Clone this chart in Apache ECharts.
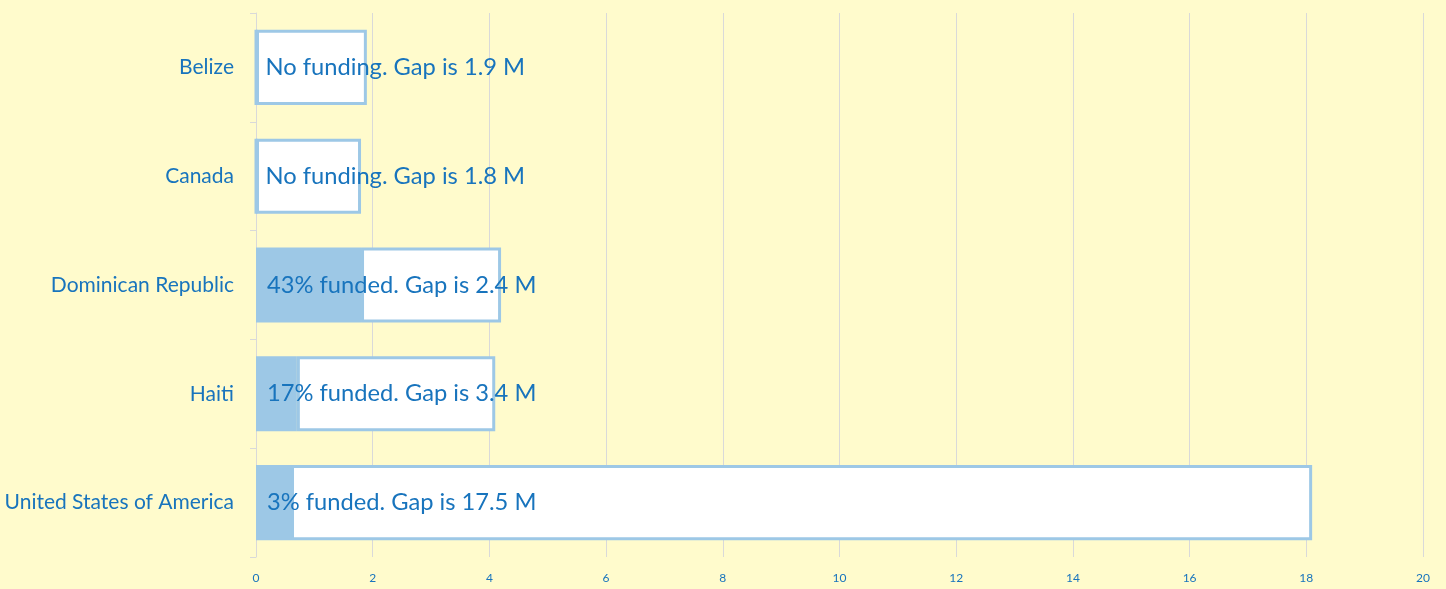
<!DOCTYPE html>
<html>
<head>
<meta charset="utf-8">
<script src="https://cdn.jsdelivr.net/npm/echarts@6/dist/echarts.min.js"></script>
<style>
  html, body { margin: 0; padding: 0; background: #fffbcc; }
  #main { width: 1446px; height: 589px; }
</style>
</head>
<body>
<div id="main"></div>
<script>
  // countries, top to bottom
  var countries = ['Belize', 'Canada', 'Dominican Republic', 'Haiti', 'United States of America']
  // funded part and remaining gap, in millions
  var funded = [0, 0, 1.8, 0.7, 0.6]
  var gap = [1.9, 1.8, 2.4, 3.4, 17.5]
  var fundedPct = [0, 0, 43, 17, 3]
  var xTicks = [0, 2, 4, 6, 8, 10, 12, 14, 16, 18, 20]

  var textBlue = '#1874bd'
  var barBlue = '#9dc8e6'
  var font = 'Lato'

  var labels = countries.map(function (c, i) {
    if (!fundedPct[i]) return 'No funding. Gap is ' + gap[i] + ' M'
    return fundedPct[i] + '% funded. Gap is ' + gap[i] + ' M'
  })

  var myChart = echarts.init(document.getElementById('main'))
  var option = {
    backgroundColor: '#fffbcc',
    animation: false,
    grid: { left: 256, right: 23, top: 13, bottom: 32, containLabel: false },
    xAxis: {
      type: 'value',
      min: xTicks[0],
      max: xTicks[xTicks.length - 1],
      interval: 2,
      axisLine: { show: false },
      axisTick: { show: false },
      splitLine: { show: true, lineStyle: { color: '#d9d9d9', width: 1 } },
      axisLabel: { color: textBlue, fontFamily: font, fontSize: 12, margin: 15 }
    },
    yAxis: {
      type: 'category',
      inverse: true,
      data: countries,
      axisLine: { show: true, lineStyle: { color: '#d9d9d9', width: 1 } },
      axisTick: { show: true, length: 6, lineStyle: { color: '#d9d9d9' } },
      axisLabel: { color: textBlue, fontFamily: font, fontSize: 21, margin: 22 }
    },
    series: [
      {
        name: 'Funded',
        type: 'bar',
        stack: 'total',
        z: 3,
        barCategoryGap: '31%',
        data: funded,
        itemStyle: { color: barBlue, borderColor: barBlue, borderWidth: 3 },
        label: {
          show: true,
          position: 'insideLeft',
          distance: 11,
          color: textBlue,
          fontFamily: font,
          fontSize: 23.7,
          formatter: function (p) { return labels[p.dataIndex] }
        }
      },
      {
        name: 'Gap',
        type: 'bar',
        stack: 'total',
        z: 2,
        data: gap,
        itemStyle: { color: '#ffffff', borderColor: barBlue, borderWidth: 3 }
      }
    ]
  }
  myChart.setOption(option)
</script>
</body>
</html>
